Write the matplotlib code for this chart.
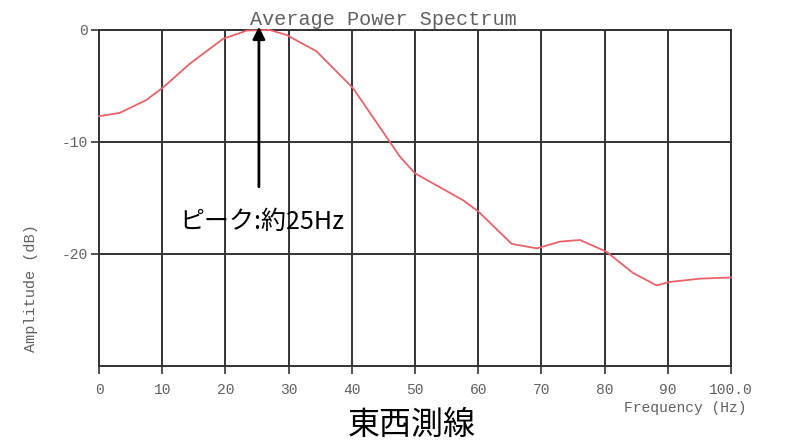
# Average power spectrum (east-west survey line)
import matplotlib
matplotlib.use('Agg')
import matplotlib.pyplot as plt

# Curve values
freq_hz = [0, 3.3, 7.5, 10.2, 14.4, 19.6, 23.4, 27.0, 29.7, 34.4, 40.2, 47.6,
           50.0, 57.6, 60.0, 65.3, 69.3, 72.9, 76.1, 80.3, 84.5, 88.2, 90.3,
           95.1, 100.0]
amp_db = [-7.7, -7.4, -6.25, -5.1, -3.0, -0.8, -0.05, 0.0, -0.45, -1.9, -5.2,
          -11.3, -12.8, -15.2, -16.2, -19.1, -19.5, -18.9, -18.75, -19.8,
          -21.7, -22.8, -22.5, -22.2, -22.1]

x_ticks = [0, 10, 20, 30, 40, 50, 60, 70, 80, 90, 100]
x_tick_labels = ['0', '10', '20', '30', '40', '50', '60', '70', '80', '90', '100.0']
y_ticks = [0, -10, -20]
y_tick_labels = ['0', '-10', '-20']

peak_freq = 25.3
peak_label = 'ピーク:約25Hz'
line_name = '東西測線'

mono = 'Liberation Mono'
cjk = ['Noto Sans CJK JP', 'DejaVu Sans']
grid_col = '#333333'
text_col = '#606060'

fig = plt.figure(figsize=(7.87, 4.46), dpi=100)
ax = fig.add_axes([0.1258, 0.1794, 0.8031, 0.7534])

# the spectrum line
ax.plot(freq_hz, amp_db, color='#e8626a', linewidth=1.3, clip_on=False, zorder=3)

ax.set_xlim(0, 100)
ax.set_ylim(-30, 0)

# grid
ax.set_xticks(x_ticks)
ax.set_yticks(y_ticks)
ax.grid(True, color=grid_col, linewidth=1.4)
for sp in ax.spines.values():
    sp.set_color(grid_col)
    sp.set_linewidth(1.4)

ax.set_xticklabels(x_tick_labels, family=mono, fontsize=10.5, color=text_col)
ax.set_yticklabels(y_tick_labels, family=mono, fontsize=10.5, color=text_col)
ax.tick_params(axis='both', direction='out', length=6, width=1.2, color=grid_col)
ax.tick_params(axis='x', pad=6)
ax.tick_params(axis='y', pad=2)

# title and axis labels in the plotter's mono font
ax.text(45, 0.45, 'Average Power Spectrum', family=mono, fontsize=14.5,
        color=text_col, ha='center', va='baseline')
fig.text(0.949, 0.085, 'Frequency (Hz)', family=mono, fontsize=10.5,
         color=text_col, ha='right', va='center')
fig.text(0.039, 0.355, 'Amplitude (dB)', family=mono, fontsize=11,
         color=text_col, rotation=90, ha='center', va='center')

# peak arrow
ax.annotate('', xy=(peak_freq, 0.3), xytext=(peak_freq, -14.0),
            arrowprops=dict(arrowstyle='-|>', color='black', lw=2,
                            mutation_scale=18, shrinkA=0, shrinkB=0),
            annotation_clip=False, zorder=5)
ax.text(25.8, -17.1, peak_label, family=cjk, fontsize=18, color='black',
        ha='center', va='center')

# survey line name under the chart
fig.text(0.523, 0.048, line_name, family=cjk, fontsize=23, color='black',
         ha='center', va='center')

fig.savefig('out.png', dpi=100)
